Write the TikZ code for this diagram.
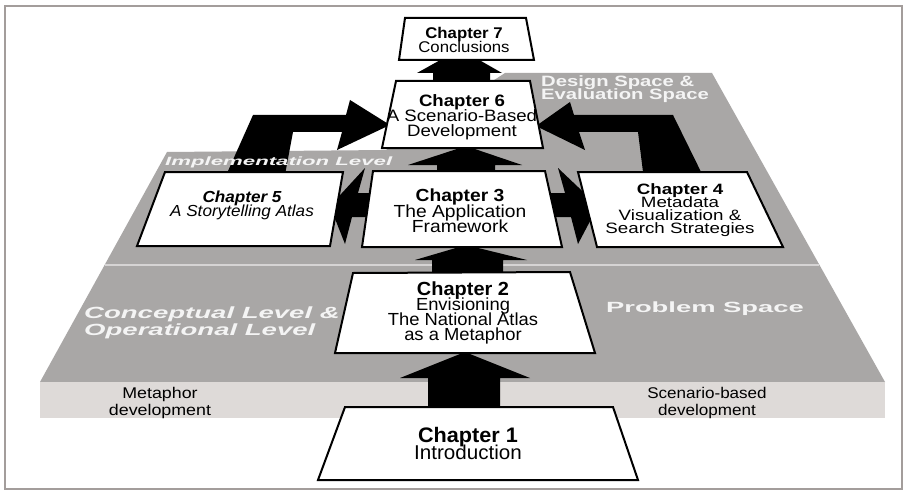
\documentclass[tikz,border=0pt]{standalone}
\usepackage{fontspec}
\setmainfont{Liberation Sans}
\usepackage{graphicx}

\definecolor{framegray}{RGB}{163,157,155}
\definecolor{planegray}{RGB}{169,167,166}
\definecolor{seamgray}{RGB}{214,212,212}
\definecolor{bandgray}{RGB}{222,218,216}
\definecolor{labelwhite}{RGB}{244,244,244}

% tightly leaded, horizontally stretched line stacks
\newcommand\stacklinesC[4]{\scalebox{#1}[1]{\fontsize{#2}{#3}\selectfont
  \vbox{\lineskiplimit=-100pt\halign{\hfil##\hfil\cr#4\crcr}}}}
\newcommand\stacklinesL[4]{\scalebox{#1}[1]{\fontsize{#2}{#3}\selectfont
  \vbox{\lineskiplimit=-100pt\halign{##\hfil\cr#4\crcr}}}}

\begin{document}
\begin{tikzpicture}[x=1pt,y=-1pt,
  chapbox/.style={draw=black, line width=2pt, fill=white, line join=miter},
  blockarrow/.style={fill=black},
  txt/.style={inner sep=0pt},
  planelabel/.style={inner sep=0pt, text=labelwhite}]
\useasboundingbox (0,0) rectangle (907,492);
\fill[white] (0,0) rectangle (907,492);

% outer frame
\draw[framegray, line width=2pt] (5,6) rectangle (902,489);

% the tilted planes
\fill[planegray] (505,73) -- (712,73) -- (885,382) -- (40,382) -- (167,152) -- (386,150) -- cycle;
\draw[seamgray, line width=2.5pt] (105,265) -- (819,265);
\fill[bandgray] (40,382) rectangle (885,418);

% side labels on the front band
\node[txt] (metaphor) at (160,403) {\stacklinesC{1.15}{15.5}{16.5}{Metaphor\cr development}};
\node[txt] (scenario) at (707,403) {\stacklinesC{1.1}{15.5}{16.5}{Scenario-based\cr development}};

% block arrows
% 1 -> 2
\fill[blockarrow] (428,410) -- (428,378) -- (400,378) -- (465,352) -- (530,378) -- (500,378) -- (500,410) -- cycle;
% 2 -> 3
\fill[blockarrow] (432,276) -- (432,260) -- (415,260) -- (466,245) -- (527,260) -- (503,260) -- (503,276) -- cycle;
% 3 -> 6
\fill[blockarrow] (437,174) -- (437,165) -- (408,165) -- (466,146) -- (522,165) -- (495,165) -- (495,174) -- cycle;
% 6 -> 7
\fill[blockarrow] (433,84) -- (433,73) -- (417,73) -- (460,49) -- (502,73) -- (490,73) -- (490,84) -- cycle;
% 3 -> 5
\fill[blockarrow] (400,193) -- (358,193) -- (365,168) -- (330,206) -- (345,244) -- (352,217) -- (400,217) -- cycle;
% 3 -> 4
\fill[blockarrow] (520,193) -- (565,193) -- (558,168) -- (598,206) -- (578,244) -- (571,217) -- (520,217) -- cycle;
% 5 -> 6 (bent)
\fill[blockarrow] (224,180) -- (253,115) -- (346,115) -- (350,100) -- (390,125) -- (337,150) -- (342,132) -- (293,132) -- (284,180) -- cycle;
% 4 -> 6 (bent)
\fill[blockarrow] (705,180) -- (673,115) -- (574,115) -- (570,102) -- (536,126) -- (585,150) -- (579,132) -- (638,132) -- (644,180) -- cycle;

% labels lying on the planes
\node[planelabel, anchor=west] (impl) at (165,162) {\stacklinesL{1.85}{12}{12}{\bfseries\itshape Implementation Level}};
\node[planelabel, anchor=west] (concept) at (84,323) {\stacklinesL{1.7}{16.2}{17.5}{\bfseries\itshape Conceptual Level \&\cr\bfseries\itshape Operational Level}};
\node[planelabel] (problem) at (705,309) {\stacklinesC{1.85}{14.8}{14}{\bfseries Problem Space}};
\node[planelabel, anchor=west] (design) at (541,89) {\stacklinesL{1.35}{15}{12.5}{\bfseries Design Space \&\cr\bfseries Evaluation Space}};

% chapter boxes
\draw[chapbox] (405,18) -- (526,18) -- (534,60) -- (399,60) -- cycle;
\draw[chapbox] (396,81) -- (530,81) -- (543,148) -- (382,148) -- cycle;
\draw[chapbox] (165,172) -- (343,172) -- (330,246) -- (137,246) -- cycle;
\draw[chapbox] (373,171) -- (545,171) -- (562,247) -- (362,247) -- cycle;
\draw[chapbox] (578,172) -- (747,172) -- (783,247) -- (597,247) -- cycle;
\draw[chapbox] (353,273) -- (570,272) -- (595,353) -- (335,353) -- cycle;
\draw[chapbox] (345,407) -- (613,407) -- (638,480) -- (318,480) -- cycle;

% chapter texts
\node[txt] (ch7) at (464,40) {\stacklinesC{1.08}{15.5}{14}{\bfseries Chapter 7\cr Conclusions}};
\node[txt] (ch6) at (462,117) {\stacklinesC{1.13}{16.5}{15}{\bfseries Chapter 6\cr A Scenario-Based\cr Development}};
\node[txt] (ch5) at (242,205) {\stacklinesC{1.07}{16}{14}{\bfseries\itshape Chapter 5\cr\itshape A Storytelling Atlas}};
\node[txt] (ch3) at (460,211) {\stacklinesC{1.1}{17.5}{15.5}{\bfseries Chapter 3\cr The Application\cr Framework}};
\node[txt] (ch4) at (680,210) {\stacklinesC{1.25}{15}{13}{\bfseries Chapter 4\cr Metadata\cr Visualization \&\cr Search Strategies}};
\node[txt] (ch2) at (463,313) {\stacklinesC{1.05}{17.5}{15}{\fontsize{19}{15}\selectfont\bfseries Chapter 2\cr Envisioning\cr The National Atlas\cr as a Metaphor}};
\node[txt] (ch1) at (468,443) {\stacklinesC{1.03}{20}{17}{\fontsize{21}{17}\selectfont\bfseries Chapter 1\cr Introduction}};
\end{tikzpicture}
\end{document}
